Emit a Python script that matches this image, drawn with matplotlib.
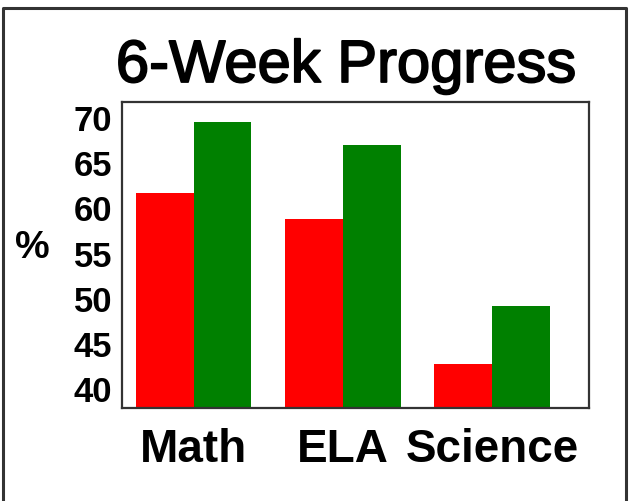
import matplotlib
matplotlib.use("Agg")
import matplotlib.pyplot as plt
import matplotlib.patheffects as pe
from matplotlib.lines import Line2D
import numpy as np

subjects = ["Math", "ELA", "Science"]
before = [61.6, 58.7, 42.7]   # red bars
after = [69.5, 66.9, 49.1]    # green bars
yticks = [40, 45, 50, 55, 60, 65, 70]

plt.rcParams["font.family"] = ["Liberation Sans", "DejaVu Sans"]

fig = plt.figure(figsize=(6.29, 5.02), dpi=100)
ax = fig.add_axes([122/629, 1 - 409/502, (589-122)/629, (409-103)/502])

x = np.arange(len(subjects))
w = 0.387
ax.bar(x - w/2, before, width=w, color="#ff0000")
ax.bar(x + w/2, after, width=w, color="#008000")

ax.set_xlim(-0.479, 2.649)
ax.set_ylim(37.79, 71.66)
ax.set_yticks(yticks)
ax.set_yticklabels([str(t) for t in yticks], fontsize=25, fontweight="bold")
ax.set_xticks(x)
ax.set_xticklabels(subjects, fontsize=33, fontweight="bold")
ax.tick_params(axis="y", length=0, pad=7)
ax.tick_params(axis="x", length=0, pad=14)
for s in ax.spines.values():
    s.set_color("#333333")
    s.set_linewidth(1.6)

t = fig.text(346/629, 1 - 83/502, "6-Week Progress", fontsize=43,
             ha="center", va="baseline")
t.set_path_effects([pe.withStroke(linewidth=1.3, foreground="black")])
fig.text(15/629, 1 - 248/502, "%", fontsize=28, fontweight="bold",
         ha="left", va="center")

# frame round the picture (no bottom edge)
fig.add_artist(Line2D([3/629, 3/629, 626/629, 626/629],
                      [0, 1 - 9/502, 1 - 9/502, 0],
                      transform=fig.transFigure, color="#333333", lw=2.2))

fig.savefig("out.png", dpi=100, facecolor="white")
